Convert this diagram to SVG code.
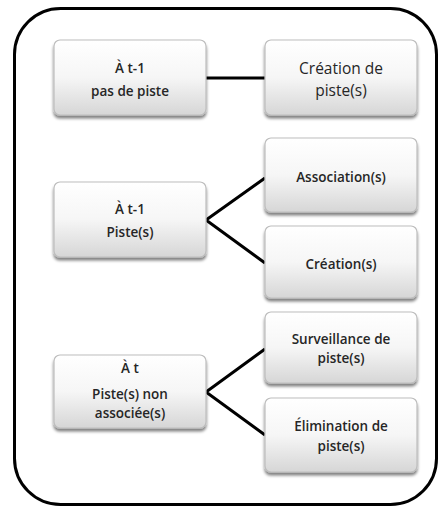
<svg xmlns="http://www.w3.org/2000/svg" width="441" height="508" viewBox="0 0 441 508">
<defs>
<linearGradient id="g" x1="0" y1="0" x2="0" y2="1">
<stop offset="0" stop-color="#ffffff"/>
<stop offset="0.5" stop-color="#f6f6f6"/>
<stop offset="1" stop-color="#d6d6d6"/>
</linearGradient>
<filter id="sh" x="-10%" y="-10%" width="120%" height="130%">
<feGaussianBlur in="SourceAlpha" stdDeviation="1.8"/>
<feOffset dx="0" dy="2.5" result="b"/>
<feComponentTransfer><feFuncA type="linear" slope="0.5"/></feComponentTransfer>
<feMerge><feMergeNode/><feMergeNode in="SourceGraphic"/></feMerge>
</filter>
</defs>
<style>
.box{fill:url(#g);stroke:#bdbdbd;stroke-width:1.2;filter:url(#sh)}
.t{font-family:"Open Sans","Liberation Sans",sans-serif;fill:#262626;text-anchor:middle;font-weight:600}
.s12{font-size:13.5px}
.s13{font-size:15.5px;font-weight:400}
.c{stroke:#000;stroke-width:3;fill:none}
</style>
<rect x="14.5" y="8.5" width="422" height="496" rx="46" fill="#fff" stroke="#000" stroke-width="3"/>
<g id="connectors">
<line class="c" x1="206" y1="78" x2="265" y2="78"/>
<polyline class="c" points="265,178 206,220 265,263"/>
<polyline class="c" points="265,349 206,392 265,435"/>
</g>
<g id="n1"><rect class="box" x="54" y="40" width="152" height="75" rx="6"/>
<text class="t s12" x="130" y="73">À t-1</text><text class="t s12" x="130" y="96">pas de piste</text></g>
<g id="n2"><rect class="box" x="265" y="40" width="152" height="75" rx="6"/>
<text class="t s13" x="341" y="74">Création de</text><text class="t s13" x="341" y="96">piste(s)</text></g>
<g id="n3"><rect class="box" x="54" y="182" width="152" height="75" rx="6"/>
<text class="t s12" x="130" y="214">À t-1</text><text class="t s12" x="130" y="237">Piste(s)</text></g>
<g id="n4"><rect class="box" x="265" y="138" width="152" height="74" rx="6"/>
<text class="t s12" x="341" y="182">Association(s)</text></g>
<g id="n5"><rect class="box" x="265" y="226" width="152" height="72" rx="6"/>
<text class="t s12" x="341" y="269">Création(s)</text></g>
<g id="n6"><rect class="box" x="54" y="355" width="152" height="73" rx="6"/>
<text class="t s12" x="130" y="373">À t</text><text class="t s12" x="130" y="399">Piste(s) non</text><text class="t s12" x="130" y="418">associée(s)</text></g>
<g id="n7"><rect class="box" x="265" y="312" width="152" height="71" rx="6"/>
<text class="t s12" x="341" y="344">Surveillance de</text><text class="t s12" x="341" y="363">piste(s)</text></g>
<g id="n8"><rect class="box" x="265" y="398" width="152" height="74" rx="6"/>
<text class="t s12" x="341" y="431">Élimination de</text><text class="t s12" x="341" y="451">piste(s)</text></g>
</svg>
